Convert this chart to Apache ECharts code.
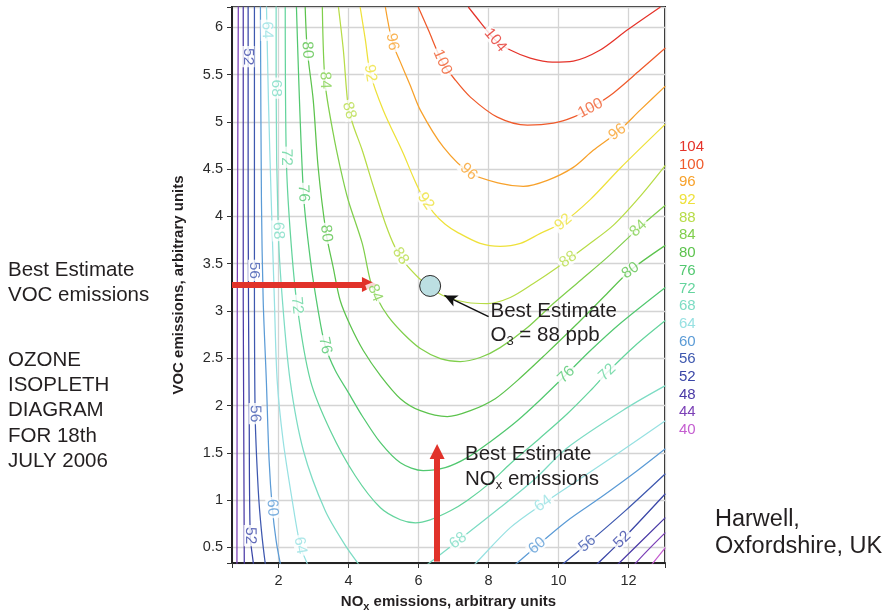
<!DOCTYPE html>
<html>
<head>
<meta charset="utf-8">
<title>Ozone isopleth diagram</title>
<script src="https://cdn.jsdelivr.net/npm/echarts@6/dist/echarts.min.js"></script>
<style>
html, body { margin: 0; padding: 0; background: #fff; }
#chart { width: 896px; height: 612px; }
</style>
</head>
<body>
<div id="chart"></div>
<script>
// Ozone levels (ppb), highest first as listed in the key
const levels = [104, 100, 96, 92, 88, 84, 80, 76, 72, 68, 64, 60, 56, 52, 48, 44, 40];
const levelColors = ['#e5332a', '#ef5a2b', '#f7a12b', '#eee13a', '#b7dc47', '#80cf4c', '#5cc34d',
  '#52c870', '#64d49d', '#7ddcc4', '#97e1e2', '#5b9bd6', '#3e58af', '#3a46a7', '#4a3aa6', '#7b40b6', '#c45dd0'];

// Axis ticks and plotted extent
const noxTicks = [2, 4, 6, 8, 10, 12];
const vocTicks = [0.5, 1, 1.5, 2, 2.5, 3, 3.5, 4, 4.5, 5, 5.5, 6];
const noxRange = [0.669, 13.04];
const vocRange = [0.335, 6.215];

// Isopleth traces as [NOx, VOC]; "a" = low-NOx branch, "b" = high-NOx branch
const c104 = [[7.42, 6.215], [7.76, 6.056], [8.19, 5.865], [8.62, 5.76], [9.19, 5.675], [9.82, 5.632], [10.42, 5.643], [11.19, 5.76], [11.96, 5.971], [12.91, 6.215]];
const c100 = [[5.99, 6.215], [6.28, 5.971], [6.68, 5.632], [7.05, 5.442], [7.48, 5.262], [8.25, 5.05], [9.11, 4.965], [9.85, 4.986], [10.42, 5.05], [10.91, 5.145], [11.56, 5.304], [12.33, 5.548], [13.05, 5.781]];
const c96 = [[5.05, 6.215], [5.25, 5.844], [5.48, 5.632], [5.76, 5.388], [6.05, 5.124], [6.71, 4.732], [7.48, 4.456], [8.33, 4.35], [8.99, 4.319], [9.68, 4.382], [10.42, 4.519], [10.99, 4.70], [11.68, 4.891], [12.33, 5.124], [13.05, 5.378]];
const c92 = [[4.33, 6.215], [4.48, 5.865], [4.62, 5.516], [4.99, 5.124], [5.56, 4.668], [5.85, 4.414], [6.11, 4.213], [6.42, 4.044], [6.76, 3.917], [7.11, 3.832], [7.76, 3.715], [8.33, 3.683], [8.91, 3.715], [9.48, 3.821], [10.13, 3.938], [10.91, 4.181], [11.76, 4.51], [13.05, 4.976]];
const c88 = [[3.71, 6.215], [3.85, 5.76], [3.99, 5.156], [4.13, 4.965], [4.39, 4.70], [4.68, 4.35], [5.05, 3.926], [5.33, 3.673], [5.62, 3.503], [5.99, 3.355], [6.33, 3.249], [6.76, 3.153], [7.39, 3.09], [7.96, 3.079], [8.62, 3.143], [9.28, 3.291], [9.96, 3.461], [10.82, 3.694], [11.56, 3.906], [12.33, 4.213], [13.05, 4.541]];
const c84 = [[3.25, 6.215], [3.33, 5.41], [3.56, 4.88], [3.76, 4.52], [3.99, 4.171], [4.39, 3.715], [4.62, 3.323], [4.82, 3.132], [5.13, 2.942], [5.56, 2.762], [6.05, 2.603], [6.62, 2.497], [7.19, 2.465], [7.76, 2.508], [8.33, 2.613], [9.11, 2.825], [9.85, 3.079], [10.62, 3.323], [11.39, 3.567], [12.28, 3.874], [13.05, 4.118]];
const c80 = [[2.76, 6.215], [2.82, 5.76], [2.99, 5.23], [3.13, 4.52], [3.36, 3.821], [3.56, 3.461], [3.76, 3.111], [4.05, 2.846], [4.42, 2.582], [4.91, 2.317], [5.48, 2.073], [6.05, 1.946], [6.82, 1.883], [7.48, 1.946], [8.19, 2.073], [8.82, 2.264], [9.62, 2.539], [10.48, 2.846], [11.33, 3.164], [12.05, 3.429], [13.05, 3.694]];
const c76 = [[2.51, 6.215], [2.71, 4.245], [2.91, 3.535], [3.13, 3.005], [3.33, 2.635], [3.62, 2.37], [3.99, 2.14], [4.39, 1.89], [4.91, 1.607], [5.48, 1.395], [6.13, 1.311], [6.76, 1.343], [7.39, 1.449], [8.05, 1.618], [8.82, 1.84], [9.48, 2.062], [10.19, 2.317], [10.91, 2.582], [11.76, 2.868], [13.05, 3.249]];
const c72 = [[2.19, 6.215], [2.22, 4.626], [2.33, 3.853], [2.53, 3.058], [2.91, 2.264], [3.48, 1.734], [4.19, 1.258], [4.91, 0.919], [5.48, 0.792], [5.91, 0.76], [6.33, 0.792], [6.91, 0.887], [7.39, 0.996], [8.05, 1.185], [8.62, 1.385], [9.48, 1.66], [10.25, 1.914], [10.91, 2.158], [11.39, 2.349], [12.19, 2.635], [13.05, 2.899]];
const c68a = [[1.93, 6.3], [1.93, 5.357], [1.99, 3.853], [2.11, 3.111], [2.33, 2.264], [2.71, 1.522], [3.33, 0.889], [3.91, 0.518], [4.28, 0.327], [4.62, 0.168]];
const c68b = [[5.82, 0.2], [6.28, 0.327], [7.13, 0.571], [8.33, 0.921], [9.33, 1.226], [10.25, 1.554], [11.96, 1.978], [13.05, 2.211]];
const c64a = [[1.65, 6.3], [1.71, 5.23], [1.79, 4.171], [1.88, 3.111], [1.96, 2.264], [2.13, 1.628], [2.39, 0.996], [2.62, 0.518], [2.82, 0.327], [2.96, 0.2]];
const c64b = [[7.28, 0.2], [7.62, 0.327], [8.62, 0.709], [9.56, 0.964], [10.53, 1.205], [11.68, 1.491], [13.05, 1.84]];
const c60a = [[1.48, 6.3], [1.51, 4.171], [1.56, 3.111], [1.65, 2.264], [1.73, 1.416], [1.82, 0.919], [1.93, 0.571], [2.05, 0.327], [2.13, 0.2]];
const c60b = [[8.39, 0.2], [8.79, 0.327], [9.39, 0.518], [10.25, 0.783], [11.19, 1.025], [12.13, 1.279], [13.05, 1.544]];
const c56a = [[1.31, 6.3], [1.31, 3.429], [1.33, 1.914], [1.42, 1.099], [1.51, 0.677], [1.62, 0.327], [1.68, 0.2]];
const c56b = [[9.73, 0.2], [10.13, 0.327], [10.82, 0.539], [11.91, 0.889], [13.05, 1.279]];
const c52a = [[1.13, 6.3], [1.13, 4.171], [1.16, 1.914], [1.19, 0.624], [1.28, 0.327], [1.31, 0.2]];
const c52b = [[10.76, 0.2], [11.11, 0.327], [11.82, 0.582], [13.05, 1.067]];
const c48a = [[0.99, 6.3], [0.99, 3.111], [1.02, 0.327], [1.02, 0.2]];
const c48b = [[11.36, 0.2], [11.71, 0.327], [13.05, 0.815]];
const c44a = [[0.85, 6.3], [0.82, 3.111], [0.81, 0.2]];
const c44b = [[11.99, 0.2], [12.19, 0.327], [13.05, 0.656]];
const c40b = [[12.39, 0.2], [12.68, 0.327], [13.05, 0.497]];

// Where each level's value is written along its isopleth, [NOx, VOC]
const lab104 = [[8.19, 5.865]];
const lab100 = [[6.68, 5.632], [10.91, 5.145]];
const lab96 = [[5.22, 5.844], [7.42, 4.47], [11.68, 4.891]];
const lab92 = [[4.62, 5.516], [6.10, 4.136], [10.13, 3.94]];
const lab88 = [[4.05, 5.124], [5.42, 3.567], [10.25, 3.557]];
const lab84 = [[3.28, 5.44], [4.71, 3.185], [12.28, 3.874]];
const lab80 = [[2.82, 5.76], [3.36, 3.821], [12.05, 3.43]];
const lab76 = [[2.71, 4.245], [3.33, 2.635], [10.19, 2.338]];
const lab72 = [[2.22, 4.626], [2.53, 3.06], [11.39, 2.35]];
const lab68 = [[1.91, 5.357], [1.99, 3.85], [7.13, 0.571]];
const lab64 = [[1.65, 5.97], [2.62, 0.52], [9.56, 0.964]];
const lab60 = [[1.79, 0.92], [9.39, 0.518]];
const lab56 = [[1.31, 3.43], [1.33, 1.914], [10.82, 0.539]];
const lab52 = [[1.13, 5.69], [1.19, 0.624], [11.82, 0.582]];

// Best estimate of the day's emissions and the resulting ozone
const bestEstimate = [6.33, 3.265];
const vocArrowFrom = [0.669, 3.28];
const vocArrowTip = [4.81, 3.28];
const noxArrowFrom = [6.53, 0.35];
const noxArrowTip = [6.53, 1.593];
const pointerFrom = [8.0, 2.94];
const pointerTip = [6.57, 3.195];

const contourSets = [
  { level: 104, paths: [c104], labels: lab104 },
  { level: 100, paths: [c100], labels: lab100 },
  { level: 96, paths: [c96], labels: lab96 },
  { level: 92, paths: [c92], labels: lab92 },
  { level: 88, paths: [c88], labels: lab88 },
  { level: 84, paths: [c84], labels: lab84 },
  { level: 80, paths: [c80], labels: lab80 },
  { level: 76, paths: [c76], labels: lab76 },
  { level: 72, paths: [c72], labels: lab72 },
  { level: 68, paths: [c68a, c68b], labels: lab68 },
  { level: 64, paths: [c64a, c64b], labels: lab64 },
  { level: 60, paths: [c60a, c60b], labels: lab60 },
  { level: 56, paths: [c56a, c56b], labels: lab56 },
  { level: 52, paths: [c52a, c52b], labels: lab52 },
  { level: 48, paths: [c48a, c48b], labels: [] },
  { level: 44, paths: [c44a, c44b], labels: [] },
  { level: 40, paths: [c40b], labels: [] }
];

const FONT = '"Liberation Sans", Arial, Helvetica, sans-serif';
const INK = '#231f20';
const RED = '#e1322a';
const colorOf = {};
levels.forEach((l, i) => { colorOf[l] = levelColors[i]; });

const isTick = (list, v) => list.some(t => Math.abs(t - v) < 1e-6);

const chart = echarts.init(document.getElementById('chart'), null, { renderer: 'canvas' });

const contourSeries = [];
contourSets.forEach(cs => cs.paths.forEach(p => contourSeries.push({
  type: 'line', name: String(cs.level), data: p,
  symbol: 'none', showSymbol: false, smooth: 0.3, clip: true,
  lineStyle: { color: colorOf[cs.level], width: 1.25 },
  itemStyle: { color: colorOf[cs.level] },
  silent: true, animation: false, z: 2
})));

const arrowSeries = (id, color, width, symbol, size) => ({
  id, type: 'line', data: [], silent: true, animation: false, z: 8,
  markLine: {
    silent: true, animation: false, symbol: ['none', symbol], symbolSize: size,
    label: { show: false }, emphasis: { disabled: true },
    lineStyle: { color, width, type: 'solid', opacity: 1 },
    data: []
  }
});

const option = {
  animation: false,
  backgroundColor: '#fff',
  grid: { left: 232, top: 7, width: 433, height: 556, show: true, borderColor: '#222', borderWidth: 2,
    backgroundColor: 'transparent', containLabel: false, outerBoundsMode: 'none' },
  legend: {
    orient: 'vertical', left: 669, top: 133, itemGap: 0, itemWidth: 0, itemHeight: 0,
    selectedMode: false, icon: 'rect',
    itemStyle: { opacity: 0 }, lineStyle: { opacity: 0 },
    textStyle: { fontFamily: FONT, fontSize: 15, lineHeight: 17.7 },
    data: levels.map((l, i) => ({ name: String(l), textStyle: { color: levelColors[i] } }))
  },
  xAxis: {
    type: 'value', min: noxRange[0], max: noxRange[1], splitNumber: 6,
    name: '{b|NO}{s|x}{b| emissions, arbitrary units}',
    nameLocation: 'middle', nameGap: 29,
    nameTextStyle: {
      rich: {
        b: { fontFamily: FONT, fontSize: 15, fontWeight: 'bold', color: INK, lineHeight: 20 },
        s: { fontFamily: FONT, fontSize: 11, fontWeight: 'bold', color: INK, lineHeight: 11, verticalAlign: 'bottom' }
      }
    },
    axisLine: { show: true, onZero: false, lineStyle: { color: '#222', width: 2 } },
    axisTick: { show: true, inside: false, length: 5, lineStyle: { color: '#333', width: 1 } },
    axisLabel: { show: true, margin: 10, fontFamily: FONT, fontSize: 14.5, color: '#2a2a2a',
      formatter: v => isTick(noxTicks, v) ? String(Math.round(v * 100) / 100) : '' },
    splitLine: { show: true, lineStyle: { color: '#d4d4d4', width: 1.3 } }
  },
  yAxis: {
    type: 'value', min: vocRange[0], max: vocRange[1], splitNumber: 12,
    name: 'VOC emissions, arbitrary units',
    nameLocation: 'middle', nameGap: 46, nameRotate: 90,
    nameTextStyle: { fontFamily: FONT, fontSize: 15, fontWeight: 'bold', color: INK },
    axisLine: { show: true, onZero: false, lineStyle: { color: '#222', width: 2 } },
    axisTick: { show: true, inside: false, length: 5, lineStyle: { color: '#333', width: 1 } },
    axisLabel: { show: true, margin: 9, fontFamily: FONT, fontSize: 14.5, color: '#2a2a2a',
      formatter: v => isTick(vocTicks, v) ? String(Math.round(v * 100) / 100) : '' },
    splitLine: { show: true, lineStyle: { color: '#d4d4d4', width: 1.3 } }
  },
  series: contourSeries.concat([
    {
      id: 'labels', type: 'scatter', data: [], symbolSize: 1, silent: true, animation: false, z: 5,
      itemStyle: { color: 'rgba(0,0,0,0)' },
      label: { show: true, position: 'inside', formatter: '{b}', fontFamily: FONT, fontSize: 15.5,
        backgroundColor: '#fff', padding: [0, 2], lineHeight: 13 },
      emphasis: { disabled: true }
    },
    arrowSeries('vocArrow', RED, 6, 'triangle', [15, 15]),
    arrowSeries('noxArrow', RED, 6, 'triangle', [15, 15]),
    arrowSeries('pointer', '#111', 1.5, 'arrow', [9, 13]),
    {
      id: 'best', type: 'scatter', name: 'Best estimate', data: [bestEstimate], symbolSize: 21,
      silent: true, animation: false, z: 9,
      itemStyle: { color: '#bcdfe2', borderColor: '#2a2a2a', borderWidth: 1, opacity: 1 }
    }
  ]),
  graphic: [
    { type: 'text', x: 8, y: 257.5, style: { text: 'Best Estimate\nVOC emissions', fontFamily: FONT, fontSize: 20.5, lineHeight: 25, fill: INK, verticalAlign: 'top' } },
    { type: 'text', x: 8, y: 347.5, style: { text: 'OZONE\nISOPLETH\nDIAGRAM\nFOR 18th\nJULY 2006', fontFamily: FONT, fontSize: 20.5, lineHeight: 25.25, fill: INK, verticalAlign: 'top' } },
    { type: 'text', x: 715, y: 506.5, style: { text: 'Harwell,\nOxfordshire, UK', fontFamily: FONT, fontSize: 23.5, lineHeight: 27, fill: INK, verticalAlign: 'top' } },
    { type: 'text', x: 490.5, y: 298.8, z: 10, style: { text: 'Best Estimate\nO{s|3} = 88 ppb', fontFamily: FONT, fontSize: 20.5, lineHeight: 24.5, fill: INK, verticalAlign: 'top',
      rich: { s: { fontFamily: FONT, fontSize: 13, lineHeight: 13, verticalAlign: 'bottom', fill: INK } } } },
    { type: 'text', x: 465, y: 441.5, z: 10, style: { text: 'Best Estimate\nNO{s|x} emissions', fontFamily: FONT, fontSize: 20.5, lineHeight: 25, fill: INK, verticalAlign: 'top',
      rich: { s: { fontFamily: FONT, fontSize: 13, lineHeight: 13, verticalAlign: 'bottom', fill: INK } } } }
  ]
};

chart.setOption(option);

// Place each value label on its isopleth and turn it to follow the line
const toPx = p => chart.convertToPixel({ gridIndex: 0 }, p);
const toData = q => chart.convertFromPixel({ gridIndex: 0 }, q);

function placeOnPaths(paths, anchor) {
  const p = toPx(anchor);
  let best = null;
  paths.forEach(path => {
    for (let i = 0; i < path.length - 1; i++) {
      const a = toPx(path[i]), b = toPx(path[i + 1]);
      const dx = b[0] - a[0], dy = b[1] - a[1];
      const len2 = dx * dx + dy * dy;
      let t = len2 ? ((p[0] - a[0]) * dx + (p[1] - a[1]) * dy) / len2 : 0;
      t = Math.max(0, Math.min(1, t));
      const q = [a[0] + t * dx, a[1] + t * dy];
      const d = Math.hypot(q[0] - p[0], q[1] - p[1]);
      if (!best || d < best.d) best = { d, q, dx, dy };
    }
  });
  let angle = -Math.atan2(best.dy, best.dx) * 180 / Math.PI;
  if (angle > 90) angle -= 180;
  if (angle < -90) angle += 180;
  return { pos: toData(best.q), angle };
}

const labelData = [];
contourSets.forEach(cs => cs.labels.forEach(a => {
  const r = placeOnPaths(cs.paths, a);
  labelData.push({ name: String(cs.level), value: r.pos, label: { rotate: r.angle, color: colorOf[cs.level] } });
}));

// Arrow shafts stop half a head short so the head's point lands on the tip
function shaftEnd(from, tip, head) {
  const a = toPx(from), b = toPx(tip);
  const dx = b[0] - a[0], dy = b[1] - a[1];
  const len = Math.hypot(dx, dy);
  return toData([b[0] - dx / len * head / 2, b[1] - dy / len * head / 2]);
}

chart.setOption({
  series: [
    { id: 'labels', data: labelData },
    { id: 'vocArrow', markLine: { data: [[{ coord: vocArrowFrom }, { coord: shaftEnd(vocArrowFrom, vocArrowTip, 15) }]] } },
    { id: 'noxArrow', markLine: { data: [[{ coord: noxArrowFrom }, { coord: shaftEnd(noxArrowFrom, noxArrowTip, 15) }]] } },
    { id: 'pointer', markLine: { data: [[{ coord: pointerFrom }, { coord: shaftEnd(pointerFrom, pointerTip, 13) }]] } }
  ]
});
</script>
</body>
</html>
